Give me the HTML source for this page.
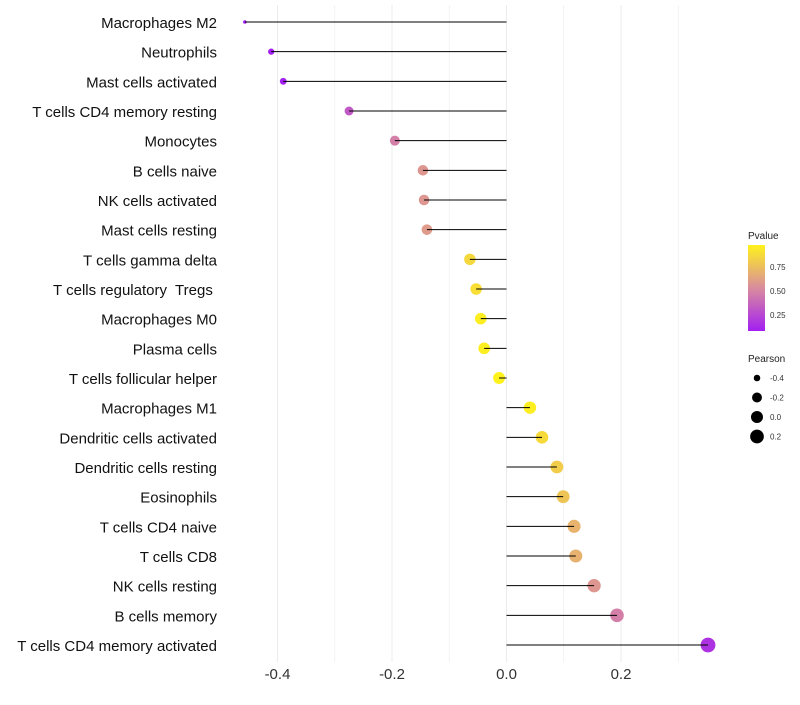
<!DOCTYPE html>
<html><head><meta charset="utf-8"><style>
body{margin:0;background:#fff;font-family:"Liberation Sans",sans-serif}
svg text{font-family:"Liberation Sans",sans-serif;white-space:pre}
</style></head><body>
<svg id="chart" width="800" height="700">
<defs><linearGradient id="pg" x1="0" y1="1" x2="0" y2="0">
<stop offset="0" stop-color="#a31ff2"/><stop offset="0.5" stop-color="#d98c9e"/><stop offset="1" stop-color="#fff21c"/></linearGradient></defs>
<g id="grid"></g><g id="points"></g><g id="marks"></g><g id="ylabels"></g><g id="xlabels"></g>
<g id="legend">
<text x="748" y="239" font-size="10" fill="#222">Pvalue</text>
<rect x="748" y="245" width="17" height="86" fill="url(#pg)"/>
<text x="770" y="270" font-size="8" fill="#333">0.75</text>
<text x="770" y="294" font-size="8" fill="#333">0.50</text>
<text x="770" y="318" font-size="8" fill="#333">0.25</text>
<text x="748" y="362" font-size="10" fill="#222">Pearson</text>
<g id="sizeleg"></g>
</g>
</svg>
<script>
const categories=["Macrophages M2","Neutrophils","Mast cells activated","T cells CD4 memory resting","Monocytes","B cells naive","NK cells activated","Mast cells resting","T cells gamma delta","T cells regulatory  Tregs ","Macrophages M0","Plasma cells","T cells follicular helper","Macrophages M1","Dendritic cells activated","Dendritic cells resting","Eosinophils","T cells CD4 naive","T cells CD8","NK cells resting","B cells memory","T cells CD4 memory activated"];
const pearson=[-0.457,-0.411,-0.390,-0.275,-0.195,-0.146,-0.144,-0.139,-0.064,-0.053,-0.045,-0.039,-0.013,0.041,0.062,0.088,0.099,0.118,0.121,0.153,0.193,0.352];
const pvalues=[0.03,0.06,0.08,0.3,0.45,0.55,0.55,0.57,0.85,0.88,0.95,0.95,0.98,0.95,0.86,0.8,0.76,0.68,0.67,0.55,0.45,0.15];
const xTicks=[-0.4,-0.2,0.0,0.2];
const xTickLabels=["-0.4","-0.2","0.0","0.2"];
const sizeLegend=[-0.4,-0.2,0.0,0.2];
const NS="http://www.w3.org/2000/svg";
const x=v=>506.5+v*572.5;
const y=i=>22+i*(623/21);
const r=v=>1.8+5.6*Math.sqrt(Math.max(0,(v+0.457)/0.809));
function col(p){
 const a=[[0.07,[163,31,242]],[0.5,[217,140,158]],[0.97,[255,242,28]]];
 p=Math.max(0.07,Math.min(0.97,p));
 let k=p<0.5?0:1;const t=(p-a[k][0])/(a[k+1][0]-a[k][0]);
 const c=a[k][1].map((v,j)=>Math.round(v+(a[k+1][1][j]-v)*t));
 return `rgb(${c})`;}
function mk(tag,at,parent){const e=document.createElementNS(NS,tag);for(const k in at)e.setAttribute(k,at[k]);document.getElementById(parent).appendChild(e);return e;}
for(let v=-0.4;v<=0.31;v+=0.1){
 const g=mk('line',{x1:x(v),x2:x(v),y1:5,y2:662,stroke:'#ebebeb','stroke-width':Math.abs(Math.round(v*10))%2?0.6:1},'grid');
 
 
}
xTicks.forEach((v,i)=>{const t=mk('text',{x:x(v),y:679,'font-size':15,'text-anchor':'middle',fill:'#333'},'xlabels');t.textContent=xTickLabels[i];
 
 });
categories.forEach((c,i)=>{
 const t=mk('text',{x:217,y:y(i)+6,'font-size':15,'text-anchor':'end',fill:'#111'},'ylabels');t.textContent=c;
 
 
 const p=mk('circle',{cx:x(pearson[i]),cy:y(i),r:r(pearson[i]),fill:col(pvalues[i])},'points');
 
 
 const l=mk('line',{x1:x(0),x2:x(pearson[i]),y1:y(i),y2:y(i),stroke:'#000','stroke-width':1},'marks');
 
 
});
sizeLegend.forEach((v,i)=>{
 const cy=378+i*19.5;
 const c=mk('circle',{cx:757,cy:cy,r:r(v),fill:'#000'},'sizeleg');
 
 
 const t=mk('text',{x:770,y:cy+3,'font-size':8,fill:'#333'},'sizeleg');t.textContent=v.toFixed(1);
 
 
});
</script>
</body></html>
